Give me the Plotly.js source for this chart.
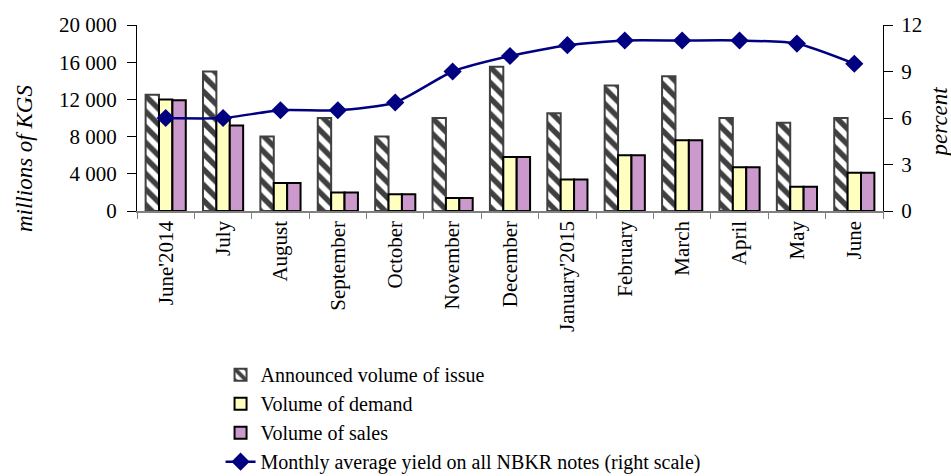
<!DOCTYPE html>
<html>
<head>
<meta charset="utf-8">
<script src="https://cdn.plot.ly/plotly-3.0.1.min.js"></script>
<style>html,body{margin:0;padding:0;background:#fff;}#chart{width:951px;height:476px;}</style>
</head>
<body>
<div id="chart"></div>
<script>
const months = ["June'2014","July","August","September","October","November","December","January'2015","February","March","April","May","June"];
const announced = [12500,15000,8000,10000,8000,10000,15500,10500,13500,14500,10000,9500,10000];
const demand = [12000,10000,3000,2000,1800,1400,5800,3400,6000,7600,4700,2600,4100];
const sales = [11900,9200,3000,2000,1800,1400,5800,3400,6000,7600,4700,2600,4100];
const yieldPct = [6.0,6.0,6.5,6.5,7.0,9.0,10.0,10.7,11.0,11.0,11.0,10.8,9.5];

const serif = "Liberation Serif";

const traces = [
  {type:'bar', name:'Announced volume of issue', x:months, y:announced,
   marker:{color:'white', line:{color:'#404040', width:2},
     pattern:{shape:'\\', fgcolor:'#404040', bgcolor:'white', size:11, solidity:0.5}}},
  {type:'bar', name:'Volume of demand', x:months, y:demand,
   marker:{color:'#FFFFC0', line:{color:'#000000', width:2}}},
  {type:'bar', name:'Volume of sales', x:months, y:sales,
   marker:{color:'#CC99CC', line:{color:'#000000', width:2}}},
  {type:'scatter', mode:'lines+markers', name:'Monthly average yield on all NBKR notes (right scale)',
   x:months, y:yieldPct, yaxis:'y2',
   line:{color:'#000080', width:2.5, shape:'spline', smoothing:0.6},
   marker:{symbol:'diamond', size:14, color:'#000080'}}
];

const layout = {
  width:951, height:476,
  margin:{l:137, r:68, t:25, b:265, pad:0, autoexpand:false},
  paper_bgcolor:'white', plot_bgcolor:'white',
  font:{family:serif, size:21, color:'#000'},
  separators:'. ',
  barmode:'group', bargap:0.3, bargroupgap:0,
  showlegend:true,
  legend:{orientation:'v', x:0.112, xanchor:'left', y:-0.775, yanchor:'top',
          font:{family:serif, size:20, color:'#000'}, bgcolor:'rgba(0,0,0,0)', tracegroupgap:0},
  xaxis:{type:'category', range:[-0.5, 12.5], autorange:false, ticks:'outside', tickson:'boundaries', ticklen:6, automargin:false,
         tickcolor:'#808080', showline:true, linecolor:'#808080', linewidth:1.5,
         tickangle:-90, tickfont:{family:serif, size:21, color:'#000'}, showgrid:false},
  yaxis:{range:[0,20000], dtick:4000, tick0:0, tickformat:',', ticks:'outside', ticklen:9, ticklabelstandoff:6, automargin:false,
         showline:true, linecolor:'#000', tickcolor:'#000', showgrid:false, zeroline:false,
         tickfont:{family:serif, size:21, color:'#000'}},
  yaxis2:{overlaying:'y', side:'right', range:[0,12], dtick:3, tick0:0, ticks:'outside', ticklen:9, ticklabelstandoff:4, automargin:false,
          showline:true, linecolor:'#000', tickcolor:'#000', showgrid:false, zeroline:false,
          tickfont:{family:serif, size:21, color:'#000'}},
  annotations:[
    {text:'<i>millions of KGS</i>', xref:'paper', yref:'paper', x:-0.15, y:0.28, xanchor:'center', yanchor:'middle',
     textangle:-90, showarrow:false, font:{family:serif, size:23, color:'#000'}},
    {text:'<i>percent</i>', xref:'paper', yref:'paper', x:1.076, y:0.48, xanchor:'center', yanchor:'middle',
     textangle:-90, showarrow:false, font:{family:serif, size:23, color:'#000'}}
  ]
};

Plotly.newPlot('chart', traces, layout, {displayModeBar:false, staticPlot:true});
</script>
</body>
</html>
